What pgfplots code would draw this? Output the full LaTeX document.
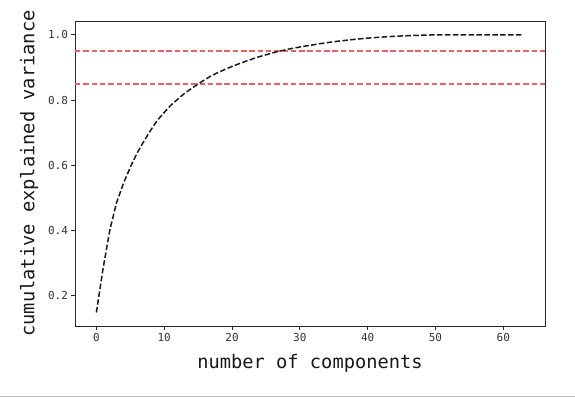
\documentclass[border=0pt]{standalone}
\usepackage{pgfplots}
\pgfplotsset{compat=1.18}
\usepackage{fontspec}
\setmainfont{DejaVu Sans Mono}
\definecolor{redline}{RGB}{235,95,105}
\definecolor{sepgray}{RGB}{185,185,185}
\begin{document}
\begin{tikzpicture}[x=1pt,y=1pt]
\useasboundingbox (-75,-73) rectangle (500,326);
\begin{axis}[
  at={(0,0)}, anchor=south west,
  scale only axis, width=470pt, height=305pt,
  xmin=-3.15, xmax=66.15, ymin=0.1075, ymax=1.0425,
  xtick={0,10,20,30,40,50,60},
  ytick={0.2,0.4,0.6,0.8,1.0},
  yticklabel style={/pgf/number format/fixed,/pgf/number format/precision=1,/pgf/number format/fixed zerofill},
  /pgf/number format/assume math mode=true,
  tick label style={font=\fontsize{11}{12}\selectfont, text=black!80},
  tick align=outside, tick pos=left,
  major tick length=3.5pt,
  axis line style={black!85, line width=0.9pt},
  every tick/.style={black!85, line width=0.8pt},
  xlabel={number of components},
  ylabel={cumulative explained variance},
  label style={font=\fontsize{18.7}{20}\selectfont, text=black!90},
  xlabel style={yshift=-6pt},
  ylabel style={yshift=3pt},
  clip=false,
]
\addplot[redline, line width=1.5pt, dash pattern=on 5.5pt off 2.8pt] coordinates {(-3.15,0.95) (66.15,0.95)};
\addplot[redline, line width=1.5pt, dash pattern=on 5.5pt off 2.8pt] coordinates {(-3.15,0.85) (66.15,0.85)};
\addplot[black!90, line width=1.5pt, dash pattern=on 5.5pt off 2.4pt] coordinates {
(0,0.1489) (1,0.2851) (2,0.4030) (3,0.4871) (4,0.5450) (5,0.5941)
(6,0.6373) (7,0.6739) (8,0.7074) (9,0.7382) (10,0.7619) (11,0.7847)
(12,0.8029) (13,0.8206) (14,0.8353) (15,0.8494) (16,0.8626) (17,0.8751)
(18,0.8852) (19,0.8943) (20,0.9032) (21,0.9111) (22,0.9188) (23,0.9260)
(24,0.9330) (25,0.9389) (26,0.9447) (27,0.9498) (28,0.9547) (29,0.9590)
(30,0.9627) (31,0.9663) (32,0.9696) (33,0.9729) (34,0.9760) (35,0.9789)
(36,0.9815) (37,0.9838) (38,0.9860) (39,0.9881) (40,0.9900) (41,0.9916)
(42,0.9931) (43,0.9945) (44,0.9956) (45,0.9966) (46,0.9975) (47,0.9983)
(48,0.9990) (49,0.9995) (50,0.9998) (51,0.9999) (52,1.0) (53,1.0)
(54,1.0) (55,1.0) (56,1.0) (57,1.0) (58,1.0) (59,1.0) (60,1.0)
(61,1.0) (62,1.0) (63,1.0)
};
\end{axis}
\draw[sepgray, line width=1.5pt] (-75,-70.5) -- (500,-70.5);
\end{tikzpicture}
\end{document}
